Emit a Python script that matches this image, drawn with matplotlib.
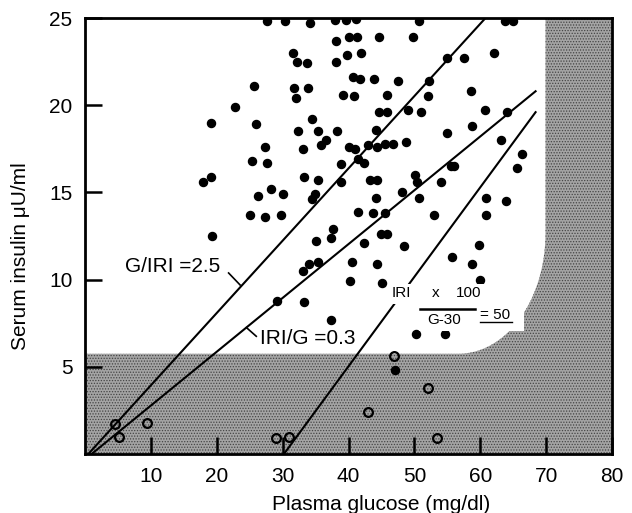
import numpy as np
import matplotlib
matplotlib.use("Agg")
import matplotlib.pyplot as plt
from matplotlib.patches import Polygon, Rectangle

plt.rcParams['font.family'] = ['Liberation Sans', 'DejaVu Sans']
plt.rcParams['hatch.color'] = '#454545'
plt.rcParams['hatch.linewidth'] = 0.6

# Filled dots: plasma glucose (mg/dl) vs serum insulin (uU/ml)
glucose_filled = [
    27.6, 30.4, 34.2, 38.0, 39.6, 41.1, 50.7, 63.8, 65.0,
    38.1, 40.0, 41.3, 44.6, 49.8,
    31.5, 32.2, 33.7, 38.1, 39.8, 41.9, 55.0, 57.5, 62.1,
    25.7, 31.7, 33.8, 32.1, 40.7, 41.7, 43.9, 47.5, 52.2,
    39.1, 40.9, 45.9, 52.1, 58.6,
    22.8, 44.6, 45.9, 49.1, 51.0, 60.7, 64.0,
    19.2, 26.0, 34.5, 32.4, 35.3, 38.2, 36.6, 44.1, 54.9, 58.8, 63.1,
    27.3, 33.1, 35.8, 40.0, 41.0, 43.0, 44.4, 45.6, 46.8, 48.7, 66.3,
    25.4, 27.6, 38.9, 41.4, 42.4, 55.5, 56.0, 65.6,
    17.9, 19.1, 33.3, 35.4, 38.9, 43.3, 44.3, 50.1, 50.4, 54.0,
    26.3, 28.2, 30.0, 34.9, 34.4, 44.2, 48.1, 50.7, 60.9, 63.9,
    25.1, 27.4, 29.7, 41.4, 43.7, 45.5, 53.0, 60.9,
    19.3, 37.6, 37.3, 35.0, 45.0, 45.9, 42.4, 48.5, 59.8,
    34.0, 35.4, 33.1, 40.6, 44.4, 55.7, 58.8,
    40.3, 45.1, 59.9,
    29.2, 33.3, 37.3, 50.3, 54.7, 47.0]
insulin_filled = [
    24.8, 24.8, 24.7, 24.9, 24.9, 24.95, 24.8, 24.8, 24.8,
    23.7, 23.9, 23.9, 23.9, 23.9,
    23.0, 22.5, 22.4, 22.5, 22.9, 23.0, 22.7, 22.7, 23.0,
    21.1, 21.0, 21.0, 20.4, 21.6, 21.5, 21.5, 21.4, 21.4,
    20.6, 20.5, 20.6, 20.5, 20.8,
    19.9, 19.6, 19.6, 19.7, 19.6, 19.7, 19.6,
    19.0, 18.9, 19.2, 18.5, 18.5, 18.5, 18.0, 18.6, 18.4, 18.8, 18.0,
    17.6, 17.5, 17.7, 17.6, 17.5, 17.7, 17.6, 17.8, 17.8, 17.9, 17.2,
    16.8, 16.7, 16.6, 16.9, 16.7, 16.5, 16.5, 16.4,
    15.6, 15.9, 15.9, 15.7, 15.6, 15.7, 15.7, 16.0, 15.6, 15.6,
    14.8, 15.2, 14.9, 14.9, 14.6, 14.7, 15.0, 14.7, 14.7, 14.5,
    13.7, 13.6, 13.7, 13.9, 13.8, 13.8, 13.7, 13.7,
    12.5, 12.9, 12.4, 12.2, 12.6, 12.6, 12.1, 11.9, 12.0,
    10.9, 11.0, 10.5, 11.0, 10.9, 11.3, 10.9,
    9.9, 9.8, 10.0,
    8.8, 8.7, 7.7, 6.9, 6.9, 4.8]

# Open circles (inside the shaded area)
glucose_open = [4.6, 5.2, 9.4, 29.0, 31.0, 43.0, 46.9, 52.1, 53.5]
insulin_open = [1.7, 1.0, 1.8, 0.9, 1.0, 2.4, 5.6, 3.8, 0.9]

# Reference lines (end points)
line_gi_x, line_gi_y = [0.5, 60.8], [0.0, 25.0]     # G/IRI = 2.5
line_ig_x, line_ig_y = [1.0, 68.4], [0.0, 20.8]     # IRI/G = 0.3
line_50_x, line_50_y = [30.2, 68.4], [0.0, 19.6]    # IRI*100/(G-30) = 50

# Shaded region: bottom strip + right strip with rounded corner
shade_top = 5.75
shade_left = 69.9
corner_x, corner_y = 56.7, 12.65

fig = plt.figure(figsize=(6.32, 5.13), dpi=100)
ax = fig.add_axes([85 / 632, 59 / 513, 527 / 632, 436 / 513])
ax.set_xlim(0, 80)
ax.set_ylim(0, 25)

t = np.linspace(0, -np.pi / 2, 60)
arc_x = corner_x + (shade_left - corner_x) * np.cos(t)
arc_y = corner_y + (corner_y - shade_top) * np.sin(t)
verts = [(0, 0), (80, 0), (80, 25), (shade_left, 25)] + list(zip(arc_x, arc_y)) + [(0, shade_top)]
ax.add_patch(Polygon(verts, closed=True, facecolor='#a4a4a4', edgecolor='#454545',
                     linewidth=0, hatch='......', zorder=0))

for lx, ly in [(line_gi_x, line_gi_y), (line_ig_x, line_ig_y), (line_50_x, line_50_y)]:
    ax.plot(lx, ly, color='black', lw=1.5, zorder=2)

ax.plot(glucose_filled, insulin_filled, 'o', color='black', ms=5.8, zorder=3)
ax.plot(glucose_open, insulin_open, 'o', mfc='none', mec='black', mew=1.6, ms=6.3, zorder=3)

# labels on the lines
ax.text(6.0, 10.75, 'G/IRI =2.5', fontsize=15, va='center', ha='left', zorder=5,
        bbox=dict(fc='white', ec='none', pad=1))
ax.plot([21.8, 23.55], [10.38, 9.69], color='black', lw=1.2, zorder=2)
ax.text(26.5, 6.65, 'IRI/G =0.3', fontsize=15, va='center', ha='left', zorder=5,
        bbox=dict(fc='white', ec='none', pad=1))
ax.plot([24.5, 26.0], [7.25, 6.75], color='black', lw=1.2, zorder=2)

# formula box
ax.add_patch(Rectangle((46.1, 8.62), 15.9, 1.15, fc='white', ec='none', zorder=4))
ax.add_patch(Rectangle((50.7, 7.07), 15.9, 1.55, fc='white', ec='none', zorder=4))
ax.text(46.6, 9.22, 'IRI', fontsize=11, va='center', ha='left', zorder=5)
ax.text(53.2, 9.22, 'x', fontsize=11, va='center', ha='center', zorder=5)
ax.text(56.3, 9.22, '100', fontsize=11, va='center', ha='left', zorder=5)
ax.plot([50.8, 59.2], [8.32, 8.32], color='black', lw=1.8, zorder=5)
ax.text(54.5, 7.68, 'G-30', fontsize=11, va='center', ha='center', zorder=5)
ax.text(60.0, 7.95, '= 50', fontsize=11, va='center', ha='left', zorder=5)
ax.plot([60.0, 64.8], [7.58, 7.58], color='black', lw=1.0, zorder=5)

ax.set_xticks(range(10, 90, 10))
ax.set_yticks([5, 10, 15, 20, 25])
ax.tick_params(direction='in', length=12, width=1.8, labelsize=15, pad=9,
               top=False, right=False)
for sp in ax.spines.values():
    sp.set_linewidth(2)

ax.set_xlabel('Plasma glucose (mg/dl)', fontsize=15)
ax.xaxis.set_label_coords(0.562, -0.094)
ax.set_ylabel('Serum insulin μU/ml', fontsize=15)
ax.yaxis.set_label_coords(-0.104, 0.454)

fig.savefig('out.png', dpi=100)
